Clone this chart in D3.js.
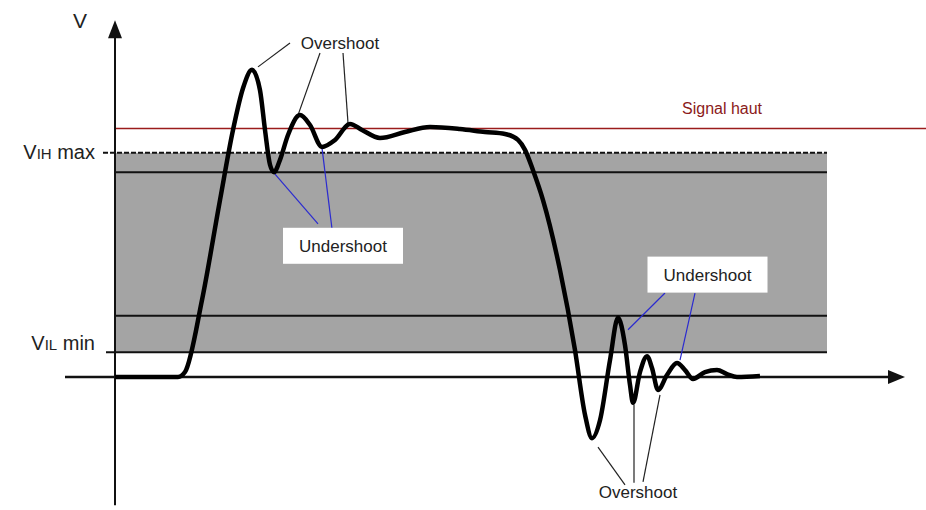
<!DOCTYPE html>
<html>
<head>
<meta charset="utf-8">
<script src="https://cdn.jsdelivr.net/npm/d3@7"></script>
<style>
  body { margin: 0; background: #fff; }
  svg { display: block; font-family: "Liberation Sans", Arial, sans-serif; }
</style>
</head>
<body>
<div id="chart"></div>
<script>
// Time (arbitrary units) and voltage (V).
const signalTime = [0, 6.3, 7.0, 8.7, 10.5, 11.8, 12.8, 13.7, 14.5, 15.0, 15.5, 15.9, 16.5, 17.3, 18.5,
  19.5, 20.7, 22.0, 23.5, 24.7, 26.5, 29.0, 31.5, 34.5, 37.0, 39.0, 40.3, 41.0, 41.8, 42.8, 44.5,
  46.0, 47.0, 47.7, 48.5, 49.5, 50.3, 51.0, 51.5, 51.8, 52.5, 53.2, 53.7, 54.3, 55.2, 56.2, 57.0,
  57.8, 59.0, 60.2, 61.2, 62.2, 64.5]
const signalVolt = [0, 0, 0.10, 1.55, 3.56, 4.97, 5.81, 6.18, 5.77, 4.97, 4.27, 4.12, 4.37, 4.87, 5.27,
  5.07, 4.63, 4.77, 5.09, 4.97, 4.81, 4.93, 5.03, 4.99, 4.93, 4.89, 4.77, 4.57, 4.16, 3.56, 2.15,
  0.54, -0.76, -1.23, -0.87, 0.34, 1.19, 0.64, -0.16, -0.52, 0.10, 0.42, 0.18, -0.26, 0.04, 0.28, 0.14,
  -0.04, 0.10, 0.14, 0.06, 0, 0.02]

// Threshold levels (V): VIH max, inner high edge, inner low edge, VIL min
const levelVolt = [4.51, 4.12, 1.23, 0.50]
const signalHaut = 5.0
const bandEnd = 71.2

// Axis extents
const xAxisExtent = [-5, 79]
const yAxisExtent = [-2.58, 7.18]

// Annotation labels: text and anchor position [t, v]
const labelText = ["Overshoot", "Undershoot", "Undershoot", "Overshoot"]
const labelPos = [[22.5, 6.72], [22.8, 2.64], [59.25, 2.06], [52.3, -2.31]]
const labelBoxed = [false, true, true, false]

// Pointer lines: [label index, from [t, v], to [t, v]]
const pointerLabel = [0, 0, 0, 1, 1, 2, 2, 3, 3, 3]
const pointerFrom = [[17.5, 6.72], [20.5, 6.52], [22.8, 6.52], [16.0, 4.08], [20.7, 4.61],
  [55.0, 1.69], [58.0, 1.69], [48.3, -1.41], [51.9, -0.56], [54.5, -0.36]]
const pointerTo = [[14.3, 6.24], [18.3, 5.27], [23.3, 5.11], [20.3, 3.08], [21.7, 2.98],
  [51.3, 0.95], [56.5, 0.34], [51.0, -2.17], [51.9, -2.13], [52.8, -2.11]]

const width = 926
const height = 510

var svg = d3.select("#chart").append("svg")
  .attr("width", width)
  .attr("height", height)

var x = d3.scaleLinear().domain([0, 79]).range([115, 905])
var y = d3.scaleLinear().domain([0, 5]).range([377, 128.5])

// Grey tolerance band
svg.append("rect")
  .attr("x", x(0))
  .attr("y", y(levelVolt[0]))
  .attr("width", x(bandEnd) - x(0))
  .attr("height", y(levelVolt[3]) - y(levelVolt[0]))
  .attr("fill", "#a4a4a4")

svg.selectAll(".level")
  .data(levelVolt)
  .enter().append("line")
  .attr("class", "level")
  .attr("x1", function(d, i) { return i == 0 ? x(-1.2) : (i == 3 ? x(-0.9) : x(0)); })
  .attr("x2", x(bandEnd))
  .attr("y1", function(d) { return y(d); })
  .attr("y2", function(d) { return y(d); })
  .attr("stroke", "#111")
  .attr("stroke-width", 2)
  .attr("stroke-dasharray", function(d, i) { return i == 0 ? "5,2" : null; })

// Signal haut line
svg.append("line")
  .attr("x1", x(0))
  .attr("x2", width)
  .attr("y1", y(signalHaut))
  .attr("y2", y(signalHaut))
  .attr("stroke", "#9b1c1c")
  .attr("stroke-width", 1.5)

svg.append("text")
  .attr("x", 682)
  .attr("y", y(signalHaut) - 15)
  .attr("font-size", 16)
  .attr("fill", "#8b1a1a")
  .text("Signal haut")

// Axes
svg.append("line")
  .attr("x1", x(xAxisExtent[0])).attr("x2", x(xAxisExtent[1]) - 10)
  .attr("y1", y(0)).attr("y2", y(0))
  .attr("stroke", "#111").attr("stroke-width", 2.5)
svg.append("path")
  .attr("d", "M" + x(xAxisExtent[1]) + "," + y(0) + "l-17,-7l0,14z")
  .attr("fill", "#111")

svg.append("line")
  .attr("x1", x(0)).attr("x2", x(0))
  .attr("y1", y(yAxisExtent[0])).attr("y2", y(yAxisExtent[1]) + 10)
  .attr("stroke", "#111").attr("stroke-width", 2)
svg.append("path")
  .attr("d", "M" + x(0) + "," + y(yAxisExtent[1]) + "l-7,18l14,0z")
  .attr("fill", "#111")

svg.append("text")
  .attr("x", 80)
  .attr("y", 28)
  .attr("font-size", 21)
  .attr("text-anchor", "middle")
  .attr("fill", "#222")
  .text("V")

// Level labels with small-caps subscript
function levelLabel(sub, rest, baseline) {
  var t = svg.append("text")
    .attr("x", 95)
    .attr("y", baseline)
    .attr("font-size", 20)
    .attr("text-anchor", "end")
    .attr("fill", "#222")
  t.append("tspan").text("V")
  t.append("tspan").attr("font-size", 15).text(sub)
  t.append("tspan").text(" " + rest)
}
levelLabel("IH", "max", y(levelVolt[0]) + 6)
levelLabel("IL", "min", y(levelVolt[3]) - 2)

// Pointer lines
svg.selectAll(".pointer")
  .data(pointerLabel)
  .enter().append("line")
  .attr("class", "pointer")
  .attr("x1", function(d, i) { return x(pointerFrom[i][0]); })
  .attr("y1", function(d, i) { return y(pointerFrom[i][1]); })
  .attr("x2", function(d, i) { return x(pointerTo[i][0]); })
  .attr("y2", function(d, i) { return y(pointerTo[i][1]); })
  .attr("stroke", function(d) { return labelBoxed[d] ? "#2b2bd0" : "#222"; })
  .attr("stroke-width", 1.2)

// Signal waveform
var signal = signalTime.map(function(t, i) { return [t, signalVolt[i]]; })
var line = d3.line()
  .x(function(d) { return x(d[0]); })
  .y(function(d) { return y(d[1]); })
  .curve(d3.curveMonotoneX)

svg.append("path")
  .datum(signal)
  .attr("d", line)
  .attr("fill", "none")
  .attr("stroke", "#000")
  .attr("stroke-width", 4.5)
  .attr("stroke-linejoin", "round")

// Annotation labels
var label = svg.selectAll(".label")
  .data(labelText)
  .enter().append("g")
  .attr("class", "label")
  .attr("transform", function(d, i) { return "translate(" + x(labelPos[i][0]) + "," + y(labelPos[i][1]) + ")"; })

label.filter(function(d, i) { return labelBoxed[i]; })
  .append("rect")
  .attr("x", -60)
  .attr("y", -18)
  .attr("width", 120)
  .attr("height", 36)
  .attr("fill", "#fff")

label.append("text")
  .attr("text-anchor", "middle")
  .attr("dy", "0.35em")
  .attr("font-size", function(d, i) { return labelBoxed[i] ? 17 : 17; })
  .attr("fill", "#222")
  .text(function(d) { return d; })
</script>
</body>
</html>
